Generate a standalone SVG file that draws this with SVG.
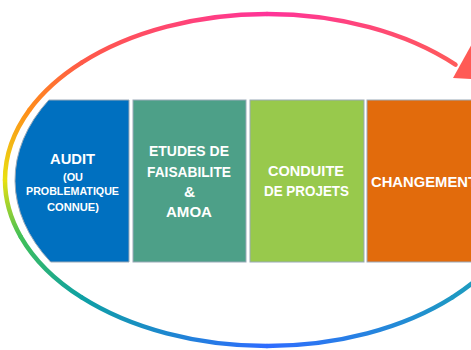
<svg xmlns="http://www.w3.org/2000/svg" width="471" height="350" viewBox="0 0 471 350">
<style>
.box{stroke:#9aa9b8;stroke-width:1}
.big{font-family:"Liberation Sans",Arial,sans-serif;font-weight:bold;font-size:15.5px;fill:#ffffff;text-anchor:middle}
.small{font-family:"Liberation Sans",Arial,sans-serif;font-weight:bold;font-size:11.5px;fill:#ffffff;text-anchor:middle}
.ring{fill:none;stroke-width:4.5;stroke-linecap:round}
</style>
<defs>
<linearGradient id="g1" gradientUnits="userSpaceOnUse" x1="525" y1="208.8" x2="452.3" y2="297.4"><stop offset="0" stop-color="#20a8b0"/><stop offset="1" stop-color="#1e98c4"/></linearGradient>
<linearGradient id="g2" gradientUnits="userSpaceOnUse" x1="452.3" y1="297.4" x2="267" y2="346"><stop offset="0" stop-color="#1e98c4"/><stop offset="1" stop-color="#2f6cff"/></linearGradient>
<linearGradient id="g3" gradientUnits="userSpaceOnUse" x1="267" y1="346" x2="81.7" y2="297.4"><stop offset="0" stop-color="#2f6cff"/><stop offset="1" stop-color="#0ea0a4"/></linearGradient>
<linearGradient id="g4" gradientUnits="userSpaceOnUse" x1="81.7" y1="297.4" x2="20.8" y2="236.8"><stop offset="0" stop-color="#0ea0a4"/><stop offset="1" stop-color="#40c058"/></linearGradient>
<linearGradient id="g5" gradientUnits="userSpaceOnUse" x1="20.8" y1="236.8" x2="5" y2="180"><stop offset="0" stop-color="#40c058"/><stop offset="1" stop-color="#e8e010"/></linearGradient>
<linearGradient id="g6" gradientUnits="userSpaceOnUse" x1="5" y1="180" x2="29.5" y2="109.8"><stop offset="0" stop-color="#e8e010"/><stop offset="1" stop-color="#ff8c1a"/></linearGradient>
<linearGradient id="g7" gradientUnits="userSpaceOnUse" x1="29.5" y1="109.8" x2="81.7" y2="62.6"><stop offset="0" stop-color="#ff8c1a"/><stop offset="1" stop-color="#ff5a48"/></linearGradient>
<linearGradient id="g8" gradientUnits="userSpaceOnUse" x1="81.7" y1="62.6" x2="267" y2="14"><stop offset="0" stop-color="#ff5a48"/><stop offset="1" stop-color="#ff3399"/></linearGradient>
<linearGradient id="g9" gradientUnits="userSpaceOnUse" x1="267" y1="14" x2="455.5" y2="64.7"><stop offset="0" stop-color="#ff3399"/><stop offset="1" stop-color="#ff5a5a"/></linearGradient>
</defs>
<g id="connectors">
<path class="ring" stroke="url(#g1)" d="M525,208.8 A262,166 0 0 1 452.3,297.4"/>
<path class="ring" stroke="url(#g2)" d="M452.3,297.4 A262,166 0 0 1 267,346"/>
<path class="ring" stroke="url(#g3)" d="M267,346 A262,166 0 0 1 81.7,297.4"/>
<path class="ring" stroke="url(#g4)" d="M81.7,297.4 A262,166 0 0 1 20.8,236.8"/>
<path class="ring" stroke="url(#g5)" d="M20.8,236.8 A262,166 0 0 1 5,180"/>
<path class="ring" stroke="url(#g6)" d="M5,180 A262,166 0 0 1 29.5,109.8"/>
<path class="ring" stroke="url(#g7)" d="M29.5,109.8 A262,166 0 0 1 81.7,62.6"/>
<path class="ring" stroke="url(#g8)" d="M81.7,62.6 A262,166 0 0 1 267,14"/>
<path class="ring" stroke="url(#g9)" d="M267,14 A262,166 0 0 1 455.5,64.7"/>
<polygon points="453,78 474,40 493,80" fill="#ff5a55"/>
</g>
<g id="audit">
<path class="box" fill="#0070c0" d="M48.8,100 A252,160 0 0 0 50.6,262 L129,262 L129,100 Z"/>
<text class="big" x="72.5" y="164" textLength="45" lengthAdjust="spacingAndGlyphs">AUDIT</text>
<text class="small" x="73" y="181" textLength="20" lengthAdjust="spacingAndGlyphs">(OU</text>
<text class="small" x="72.5" y="195" textLength="93" lengthAdjust="spacingAndGlyphs">PROBLEMATIQUE</text>
<text class="small" x="73" y="211" textLength="52" lengthAdjust="spacingAndGlyphs">CONNUE)</text>
</g>
<g id="etudes">
<rect class="box" x="133" y="100" width="113" height="162" fill="#4da088"/>
<text class="big" x="189" y="156" textLength="80" lengthAdjust="spacingAndGlyphs">ETUDES DE</text>
<text class="big" x="189" y="177" textLength="84" lengthAdjust="spacingAndGlyphs">FAISABILITE</text>
<text class="big" x="189.5" y="197">&amp;</text>
<text class="big" x="189" y="217" textLength="46" lengthAdjust="spacingAndGlyphs">AMOA</text>
</g>
<g id="conduite">
<rect class="box" x="250" y="100" width="114" height="162" fill="#98c94c"/>
<text class="big" x="306" y="176" textLength="76" lengthAdjust="spacingAndGlyphs">CONDUITE</text>
<text class="big" x="306.5" y="196" textLength="85" lengthAdjust="spacingAndGlyphs">DE PROJETS</text>
</g>
<g id="changement">
<rect class="box" x="367" y="100" width="115" height="162" fill="#e26b0c"/>
<text class="big" x="371" y="187" text-anchor="start" style="text-anchor:start" textLength="106" lengthAdjust="spacingAndGlyphs">CHANGEMENT</text>
</g>
</svg>
